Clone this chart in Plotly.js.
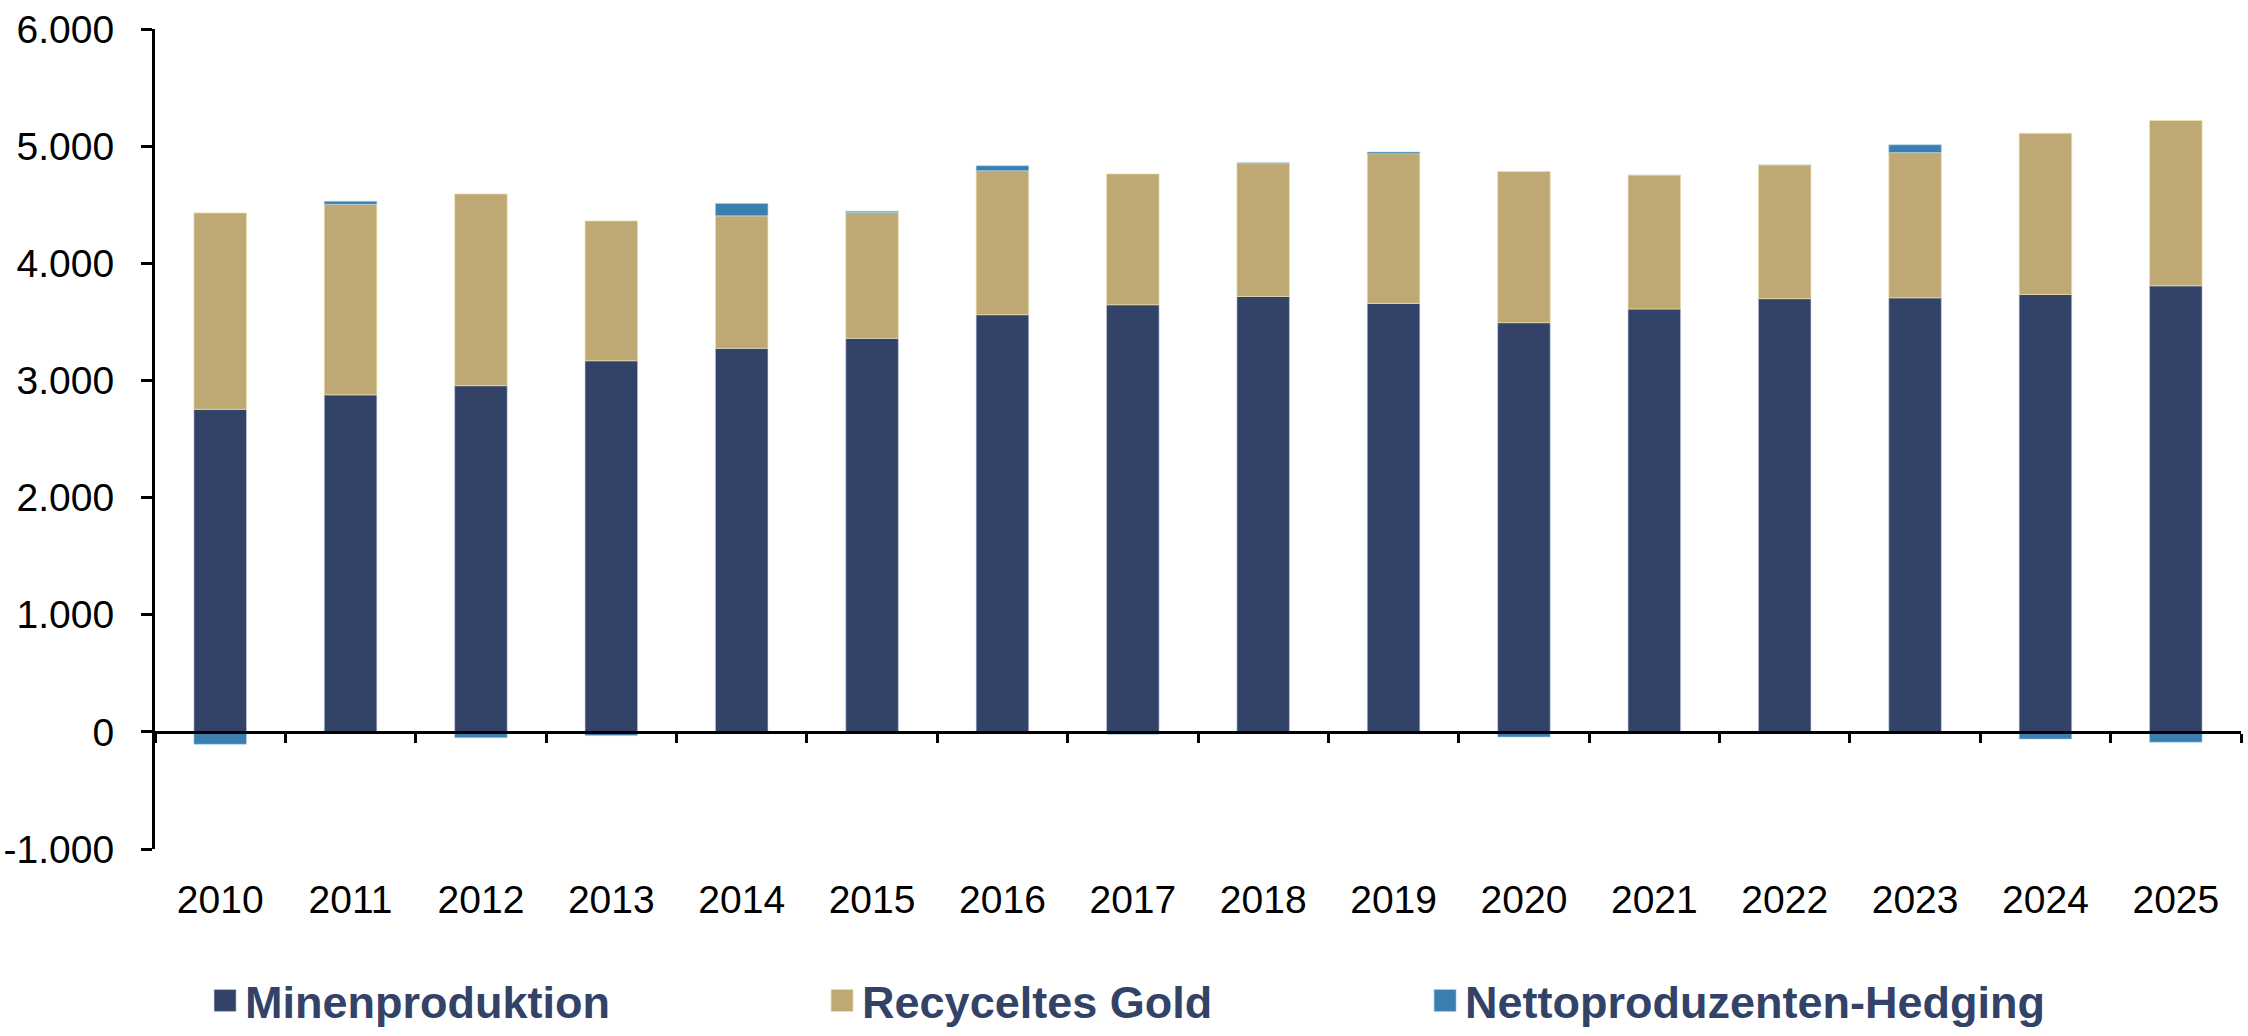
<!DOCTYPE html>
<html>
<head>
<meta charset="utf-8">
<script src="https://cdn.plot.ly/plotly-3.0.1.min.js"></script>
<style>
  html, body { margin: 0; padding: 0; background: #ffffff; }
  #chart { width: 2248px; height: 1036px; }
</style>
</head>
<body>
<div id="chart"></div>
<script>
// Gold supply by source, tonnes
const years = ['2010','2011','2012','2013','2014','2015','2016','2017','2018','2019','2020','2021','2022','2023','2024','2025'];
const minenproduktion = [2753, 2877, 2955, 3168, 3274, 3359, 3561, 3646, 3717, 3657, 3493, 3610, 3698, 3705, 3734, 3808];
const recyceltesGold  = [1677, 1627, 1637, 1194, 1131, 1074, 1230, 1117, 1141, 1279, 1291, 1141, 1141, 1240, 1376, 1411];
const hedging         = [-106, 25, -50, -32, 106, 11, 42, -20, 0, 14, -44, 0, 0, 66, -62, -88];

const seriesNames = ['Minenproduktion', 'Recyceltes Gold', 'Nettoproduzenten-Hedging'];
const seriesColors = ['#334368', '#BEA974', '#3A7FB0'];
const edgeColors = ['rgba(200,210,235,0.55)', 'rgba(240,225,170,0.7)', 'rgba(170,210,235,0.6)'];
const legendWidths = [572, 558, 640];

const yRange = [-1000, 6000];
const yTickVals = [-1000, 0, 1000, 2000, 3000, 4000, 5000, 6000];
const yTickText = ['-1.000', '0', '1.000', '2.000', '3.000', '4.000', '5.000', '6.000'];

const navy = '#334368';
const tickFont = { family: 'Liberation Sans, Arial, sans-serif', size: 39, color: '#000000' };

const traces = [minenproduktion, recyceltesGold, hedging].map((vals, i) => ({
  type: 'bar',
  name: seriesNames[i],
  x: years,
  y: vals,
  marker: { color: seriesColors[i], line: { color: edgeColors[i], width: 1 } },
  legendwidth: legendWidths[i],
  hoverinfo: 'skip'
}));

const layout = {
  width: 2248,
  height: 1036,
  margin: { l: 155, r: 7, t: 29, b: 187, pad: 0, autoexpand: false },
  paper_bgcolor: '#ffffff',
  plot_bgcolor: '#ffffff',
  barmode: 'relative',
  bargap: 0.597,
  showlegend: true,
  legend: {
    orientation: 'h',
    x: 0.024,
    xanchor: 'left',
    y: -0.185,
    yanchor: 'middle',
    font: { family: 'Liberation Sans, Arial, sans-serif', size: 45, color: navy, weight: 'bold' },
    itemclick: false,
    itemdoubleclick: false,
    traceorder: 'normal'
  },
  xaxis: {
    type: 'category',
    categoryorder: 'array',
    categoryarray: years,
    range: [-0.5, years.length - 0.5],
    anchor: 'free',
    position: (0 - yRange[0]) / (yRange[1] - yRange[0]),
    showline: true,
    linecolor: '#000000',
    linewidth: 3,
    ticks: 'outside',
    tickson: 'boundaries',
    ticklen: 9,
    tickwidth: 3,
    tickcolor: '#000000',
    showgrid: false,
    zeroline: false,
    tickfont: tickFont,
    ticklabelstandoff: 132,
    fixedrange: true
  },
  yaxis: {
    range: yRange,
    tickmode: 'array',
    tickvals: yTickVals,
    ticktext: yTickText,
    showline: true,
    linecolor: '#000000',
    linewidth: 3,
    ticks: 'outside',
    ticklen: 11,
    tickwidth: 3,
    tickcolor: '#000000',
    showgrid: false,
    zeroline: false,
    tickfont: tickFont,
    ticklabelstandoff: 19,
    fixedrange: true
  }
};

Plotly.newPlot('chart', traces, layout, { staticPlot: true, displayModeBar: false }).then(() => {
  // larger square legend swatches
  document.querySelectorAll('#chart .legendpoints path').forEach(p => {
    p.setAttribute('d', 'M11,11H-11V-11H11Z');
  });
});
</script>
</body>
</html>
